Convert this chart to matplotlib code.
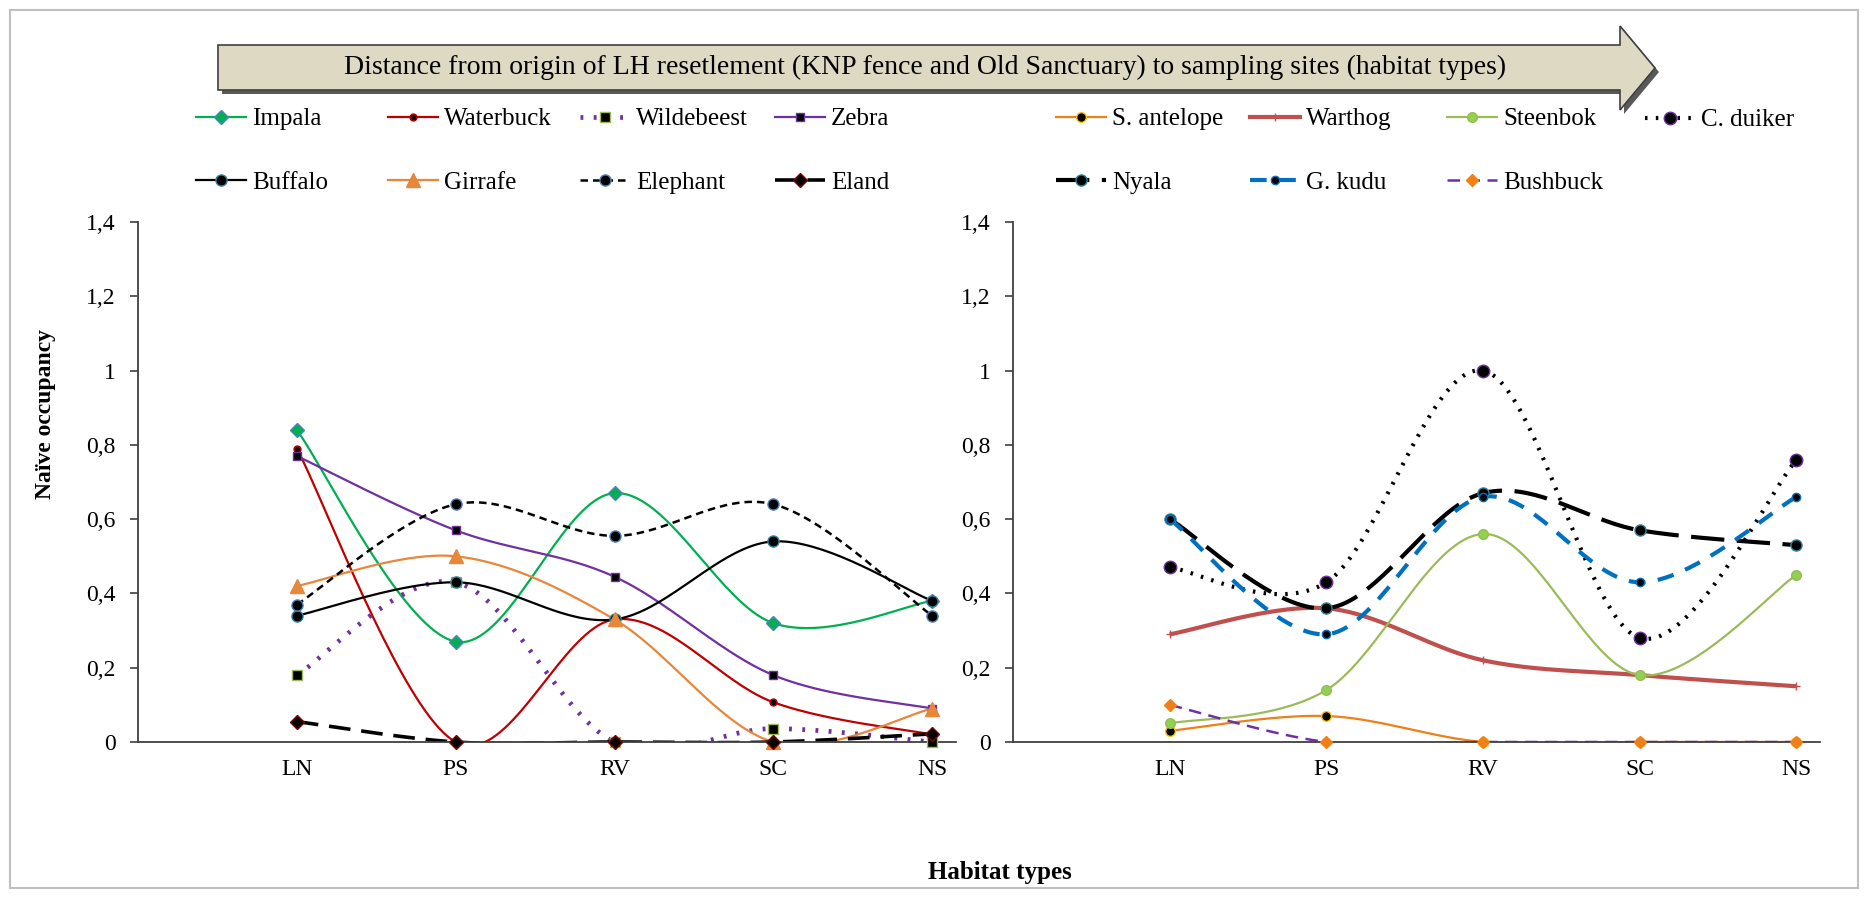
import numpy as np
import matplotlib
matplotlib.use("Agg")
import matplotlib.pyplot as plt
from matplotlib.lines import Line2D
from matplotlib.patches import Polygon, Rectangle

plt.rcParams["font.family"] = ["Liberation Serif", "DejaVu Serif"]

habitats = ["LN", "PS", "RV", "SC", "NS"]

# left panel (large herbivores)
impala = [0.84, 0.27, 0.67, 0.32, 0.38]
waterbuck = [0.79, 0.0, 0.33, 0.107, 0.02]
wildebeest = [0.18, 0.43, 0.0, 0.036, 0.0]
zebra = [0.77, 0.57, 0.445, 0.18, 0.09]
buffalo = [0.34, 0.43, 0.33, 0.54, 0.38]
girrafe = [0.42, 0.50, 0.33, 0.0, 0.09]
elephant = [0.37, 0.64, 0.555, 0.64, 0.34]
eland = [0.055, 0.0, 0.0, 0.0, 0.022]

# right panel (small / browsing species)
s_antelope = [0.03, 0.07, 0.0, 0.0, 0.0]
warthog = [0.29, 0.36, 0.22, 0.18, 0.15]
steenbok = [0.05, 0.14, 0.56, 0.18, 0.45]
c_duiker = [0.47, 0.43, 1.0, 0.28, 0.76]
nyala = [0.60, 0.36, 0.67, 0.57, 0.53]
g_kudu = [0.60, 0.29, 0.66, 0.43, 0.66]
bushbuck = [0.10, 0.0, 0.0, 0.0, 0.0]

ytick_vals = [0, 0.2, 0.4, 0.6, 0.8, 1.0, 1.2, 1.4]
ytick_text = ["0", "0,2", "0,4", "0,6", "0,8", "1", "1,2", "1,4"]

W, H = 1868, 898


def smooth(xs, ys, n=40):
    """Excel-like smoothed line (Catmull-Rom as cubic Bezier)."""
    p = np.column_stack([xs, ys]).astype(float)
    pts = np.vstack([p[0], p, p[-1]])
    t = np.linspace(0, 1, n)[:, None]
    out = []
    for i in range(1, len(pts) - 2):
        p0, p3 = pts[i], pts[i + 1]
        c1 = p0 + (pts[i + 1] - pts[i - 1]) / 6
        c2 = p3 - (pts[i + 2] - pts[i]) / 6
        seg = ((1 - t) ** 3) * p0 + 3 * ((1 - t) ** 2) * t * c1 + 3 * (1 - t) * t ** 2 * c2 + t ** 3 * p3
        out.append(seg if i == 1 else seg[1:])
    out = np.vstack(out)
    return out[:, 0], out[:, 1]


def series(ax, ys, color, ls="-", lw=1.6, marker="o", mfc="black", mec="black", ms=7, label=None):
    x = np.arange(1, len(ys) + 1)
    sx, sy = smooth(x, ys)
    ax.plot(sx, sy, color=color, ls=ls, lw=lw, solid_capstyle="butt", dash_capstyle="butt")
    ax.plot(x, ys, ls="none", marker=marker, mfc=mfc, mec=mec, ms=ms, mew=1.0, clip_on=False, zorder=5)
    # legend proxy
    return Line2D([], [], color=color, ls=ls, lw=lw, marker=marker, mfc=mfc, mec=mec, ms=ms, mew=1.0,
                  label=label, dash_capstyle="butt")


def style_axes(ax):
    ax.set_xlim(0, 5.15)
    ax.set_ylim(0, 1.4)
    ax.set_xticks(range(1, 6))
    ax.set_xticklabels(habitats, fontsize=17)
    ax.tick_params(axis="x", length=0, pad=12)
    ax.set_yticks(ytick_vals)
    ax.set_yticklabels(ytick_text, fontsize=17)
    ax.tick_params(axis="y", direction="out", length=6, width=1.2, color="#404040", pad=10)
    for s in ["top", "right"]:
        ax.spines[s].set_visible(False)
    for s in ["left", "bottom"]:
        ax.spines[s].set_color("#404040")
        ax.spines[s].set_linewidth(1.3)


fig = plt.figure(figsize=(W / 100, H / 100), dpi=100)
ax1 = fig.add_axes([138 / W, 1 - 742 / H, (956 - 138) / W, 520 / H])
ax2 = fig.add_axes([1013 / W, 1 - 742 / H, (1820 - 1013) / W, 520 / H])

h_imp = series(ax1, impala, "#00b050", marker="D", mfc="#00b050", mec="#4f81bd", ms=7, label="Impala")
h_wat = series(ax1, waterbuck, "#c00000", marker="o", mfc="black", mec="#c00000", ms=5, label="Waterbuck")
h_wil = series(ax1, wildebeest, "#7030a0", ls=(0, (0.6, 2.2)), lw=3.4, marker="s", mfc="black", mec="#9bbb59",
               ms=7, label="Wildebeest")
h_zeb = series(ax1, zebra, "#7030a0", marker="s", mfc="black", mec="#7030a0", ms=6, label="Zebra")
h_buf = series(ax1, buffalo, "black", marker="o", mfc="black", mec="#31859c", ms=8, label="Buffalo")
h_gir = series(ax1, girrafe, "#e8873a", marker="^", mfc="#e8873a", mec="#e8873a", ms=10, label="Girrafe")
h_ele = series(ax1, elephant, "black", ls=(0, (3, 2)), lw=1.8, marker="o", mfc="black", mec="#4f81bd", ms=8,
               label="Elephant")
h_ela = series(ax1, eland, "black", ls=(0, (6, 3)), lw=2.6, marker="D", mfc="black", mec="#7f0000", ms=7,
               label="Eland")

h_san = series(ax2, s_antelope, "#f07f18", marker="o", mfc="black", mec="#ffc000", ms=7, label="S. antelope")
h_war = series(ax2, warthog, "#c0504d", lw=3.0, marker="+", mfc="#c0504d", mec="#c0504d", ms=6,
               label="Warthog")
h_ste = series(ax2, steenbok, "#9bbb59", lw=1.6, marker="o", mfc="#92d050", mec="#9bbb59", ms=7,
               label="Steenbok")
h_cdu = series(ax2, c_duiker, "black", ls=(0, (0.6, 2.0)), lw=3.0, marker="o", mfc="black", mec="#7030a0",
               ms=9, label="C. duiker")
h_nya = series(ax2, nyala, "black", ls=(0, (8, 3)), lw=3.0, marker="o", mfc="black", mec="#31859c", ms=8,
               label="Nyala")
h_kud = series(ax2, g_kudu, "#0070c0", ls=(0, (4, 3)), lw=3.0, marker="o", mfc="black", mec="#0070c0", ms=6,
               label="G. kudu")
h_bus = series(ax2, bushbuck, "#7030a0", ls=(0, (5, 3)), lw=1.8, marker="D", mfc="#f07f18", mec="#f07f18",
               ms=6, label="Bushbuck")

style_axes(ax1)
style_axes(ax2)
ax1.set_ylabel("Naïve occupancy", fontsize=17, fontweight="bold")
ax1.yaxis.set_label_coords((56 - 138) / (956 - 138), 0.63)

# legends laid out as evenly spaced columns
leg_kw = dict(loc="center left", frameon=False, fontsize=18, handlelength=2.0, handletextpad=0.25,
              labelspacing=1.65, borderpad=0, borderaxespad=0, numpoints=1)
left_cols = [(196, [h_imp, h_buf]), (388, [h_wat, h_gir]), (580, [h_wil, h_ele]), (775, [h_zeb, h_ela])]
right_cols = [(1056, [h_san, h_nya]), (1250, [h_war, h_kud]), (1447, [h_ste, h_bus]), (1645, [h_cdu])]
for xpx, hs in left_cols + right_cols:
    if len(hs) == 1:
        fig.legend(handles=hs, bbox_to_anchor=(xpx / W, 1 - 120 / H), **leg_kw)
    else:
        fig.legend(handles=hs, bbox_to_anchor=(xpx / W, 1 - 151 / H), **leg_kw)

# direction arrow on top
shadow = Polygon([(222 / W, 1 - 49 / H), (1624 / W, 1 - 49 / H), (1624 / W, 1 - 30 / H),
                  (1659 / W, 1 - 72 / H), (1624 / W, 1 - 114 / H), (1624 / W, 1 - 94 / H),
                  (222 / W, 1 - 94 / H)], closed=True, transform=fig.transFigure,
                 facecolor="#595959", edgecolor="none")
arrow = Polygon([(218 / W, 1 - 45 / H), (1620 / W, 1 - 45 / H), (1620 / W, 1 - 26 / H),
                 (1655 / W, 1 - 68 / H), (1620 / W, 1 - 110 / H), (1620 / W, 1 - 90 / H),
                 (218 / W, 1 - 90 / H)], closed=True, transform=fig.transFigure,
                facecolor="#ddd9c3", edgecolor="#404040", linewidth=1.2)
fig.add_artist(shadow)
fig.add_artist(arrow)
fig.text(925 / W, 1 - 67 / H,
         "Distance from origin of LH resetlement (KNP fence and Old Sanctuary) to sampling sites (habitat types)",
         ha="center", va="center", fontsize=20)

fig.text(1000 / W, 1 - 873 / H, "Habitat types", ha="center", va="center", fontsize=18, fontweight="bold")

# light frame round the whole chart
fig.add_artist(Rectangle((10 / W, 10 / H), 1 - 20 / W, 1 - 20 / H, transform=fig.transFigure,
                         fill=False, edgecolor="#bfbfbf", linewidth=1.5))

fig.savefig("out.png", dpi=100)
